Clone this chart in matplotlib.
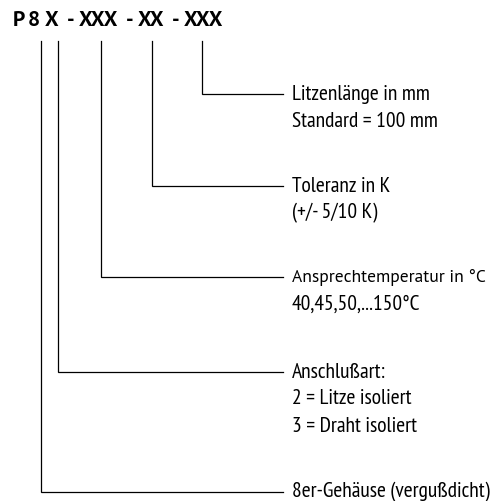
import matplotlib
matplotlib.use("Agg")
import matplotlib.pyplot as plt

code_parts = ["P", "8", "X", "-", "XXX", "-", "XX", "-", "XXX"]
branch_x = [41, 58, 101, 152, 202]
branch_y = [492, 372, 277, 186, 94]
labels = [
    ["8er-Gehäuse (vergußdicht)"],
    ["Anschlußart:", "2 = Litze isoliert", "3 = Draht isoliert"],
    ["Ansprechtemperatur in °C", "40,45,50,...150°C"],
    ["Toleranz in K", "(+/- 5/10 K)"],
    ["Litzenlänge in mm", "Standard = 100 mm"],
]

fam = ["PT Sans Narrow", "DejaVu Sans"]

fig = plt.figure(figsize=(5.02, 5.01), dpi=100)
ax = fig.add_axes([0, 0, 1, 1])
ax.set_xlim(0, 502)
ax.set_ylim(501, 0)
ax.axis("off")

# header, laid out piece by piece to match the wide spacing
part_x = [13, 28, 45, 67, 79, 126, 138, 172, 184]
for px, s in zip(part_x, code_parts):
    ax.text(px, 20, s, fontsize=15.5, fontweight="bold", family=["PT Sans", "DejaVu Sans"],
            va="center", ha="left")

line_end = 283
text_x = 292
gap = 27
for bx, by, lab in zip(branch_x, branch_y, labels):
    ax.plot([bx, bx, line_end], [41, by, by], color="black", lw=0.9, solid_joinstyle="miter")
    for i, s in enumerate(lab):
        if s.startswith("Ansprech"):
            ax.text(text_x, by, s, fontsize=12.6, family=["PT Sans", "DejaVu Sans"],
                    va="center", ha="left")
        else:
            ax.text(text_x, by + i * gap, s, fontsize=15.5, family=fam, va="center", ha="left")

fig.savefig("out.png", dpi=100)
